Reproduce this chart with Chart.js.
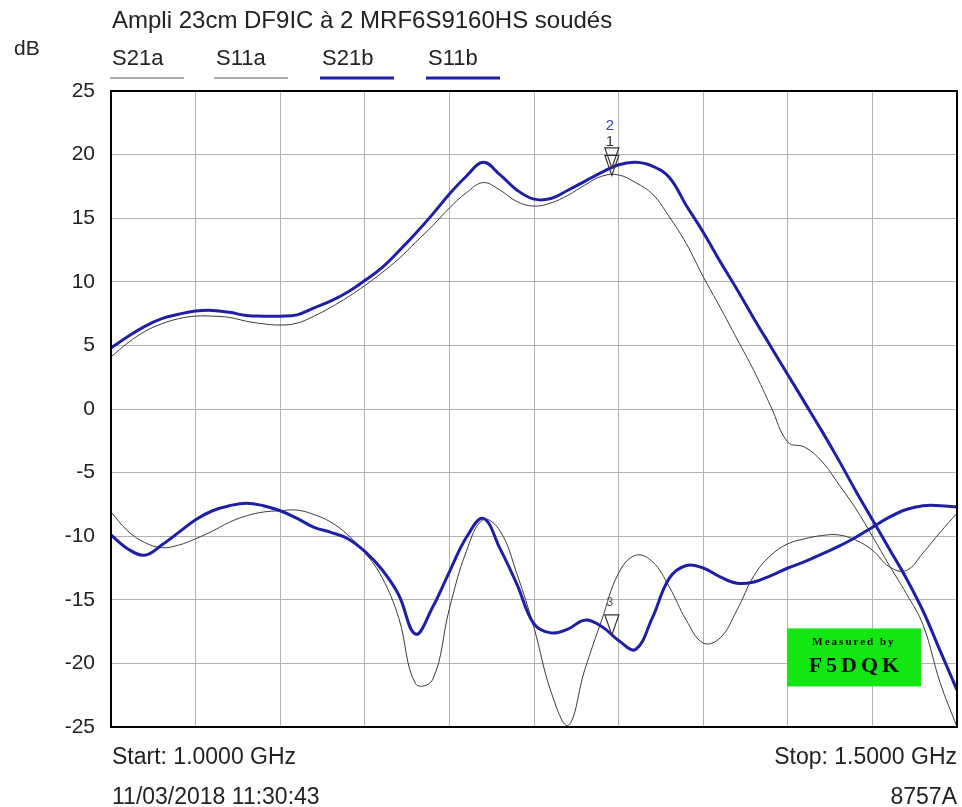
<!DOCTYPE html>
<html>
<head>
<meta charset="utf-8">
<script src="https://cdn.jsdelivr.net/npm/chart.js@4.4.1/dist/chart.umd.min.js"></script>
<style>
  html, body { margin: 0; padding: 0; background: #fff; }
  #wrap { position: relative; width: 962px; height: 807px; }
</style>
</head>
<body>
<div id="wrap"><canvas id="c" width="962" height="807"></canvas></div>
<script>
// sweep 1.0 - 1.5 GHz, one point every 10 MHz
const freqs = [1000,1010,1020,1030,1040,1050,1060,1070,1080,1090,
  1100,1110,1120,1130,1140,1150,1160,1170,1180,1190,
  1200,1210,1220,1230,1240,1250,1260,1270,1280,1290,
  1300,1310,1320,1330,1340,1350,1360,1370,1380,1390,
  1400,1410,1420,1430,1440,1450,1460,1470,1480,1490,1500];

const s21a = [4.1,5.2,6.1,6.7,7.1,7.3,7.3,7.2,6.9,6.7,
  6.6,6.75,7.3,8.0,8.8,9.7,10.7,11.8,13.1,14.4,
  15.8,17.0,17.8,17.2,16.3,15.95,16.2,16.8,17.6,18.3,
  18.4,17.8,16.9,15.1,13.0,10.4,8.0,5.5,3.0,0.2,
  -2.6,-3.0,-4.1,-5.9,-7.8,-10.0,-12.3,-14.5,-17.0,-21.5,-25.0];

const s11a = [-8.1,-9.6,-10.5,-10.9,-10.7,-10.2,-9.6,-8.9,-8.4,-8.1,
  -8.0,-7.95,-8.3,-8.9,-9.9,-11.3,-13.2,-16.4,-21.6,-21.3,
  -15.7,-11.2,-8.7,-9.6,-13.0,-17.2,-22.2,-24.9,-20.5,-16.6,
  -12.9,-11.5,-12.0,-14.0,-16.6,-18.4,-18.0,-15.8,-13.1,-11.5,
  -10.6,-10.2,-9.95,-9.9,-10.3,-11.1,-12.4,-12.7,-11.3,-9.7,-8.2];

const s21b = [4.8,5.7,6.5,7.1,7.45,7.7,7.75,7.6,7.35,7.3,
  7.3,7.4,7.95,8.5,9.2,10.1,11.1,12.4,13.8,15.3,
  16.9,18.3,19.4,18.4,17.2,16.5,16.55,17.2,17.9,18.6,
  19.2,19.4,19.1,18.2,16.0,13.9,11.6,9.4,7.1,4.9,
  2.7,0.5,-1.7,-4.0,-6.4,-8.7,-11.0,-13.3,-15.9,-19.0,-22.1];

const s11b = [-9.9,-11.0,-11.5,-10.7,-9.7,-8.7,-8.0,-7.6,-7.4,-7.6,
  -8.0,-8.6,-9.3,-9.7,-10.2,-11.2,-12.6,-14.6,-17.7,-15.6,
  -12.8,-10.1,-8.6,-11.0,-13.8,-16.9,-17.6,-17.3,-16.6,-17.1,
  -18.2,-18.9,-16.4,-13.3,-12.3,-12.5,-13.2,-13.7,-13.6,-13.1,
  -12.5,-12.0,-11.4,-10.8,-10.1,-9.3,-8.5,-7.9,-7.6,-7.6,-7.7];

const yTicks = [-25, -20, -15, -10, -5, 0, 5, 10, 15, 20, 25];
const seriesNames = ['S21a', 'S11a', 'S21b', 'S11b'];
const markerFreq = 1296;

const BLUE = '#1f1fa6';
const THIN = '#3a3a3a';
const FONT = '"Liberation Sans", Arial, sans-serif';

function pts(vals) {
  return vals.map((v, i) => ({ x: freqs[i], y: v }));
}

function valueAt(vals, f) {
  for (let i = 0; i < freqs.length - 1; i++) {
    if (f >= freqs[i] && f <= freqs[i + 1]) {
      const t = (f - freqs[i]) / (freqs[i + 1] - freqs[i]);
      return vals[i] + t * (vals[i + 1] - vals[i]);
    }
  }
  return vals[vals.length - 1];
}

// markers: label, trace, colour of label
const markers = [
  { label: '1', vals: s21a, color: '#333', dy: -6 },
  { label: '2', vals: s21b, color: '#3344aa', dy: -14 },
  { label: '3', vals: s11b, color: '#555', dy: -6, small: true }
];

const framePlugin = {
  id: 'frame',
  afterDatasetsDraw(chart) {
    const { ctx, chartArea: a, scales } = chart;
    ctx.save();
    // markers
    markers.forEach(m => {
      const px = scales.x.getPixelForValue(markerFreq);
      const py = scales.y.getPixelForValue(valueAt(m.vals, markerFreq));
      ctx.strokeStyle = '#333';
      ctx.lineWidth = 1.2;
      ctx.beginPath();
      ctx.moveTo(px, py);
      ctx.lineTo(px - 7, py - 20);
      ctx.lineTo(px + 7, py - 20);
      ctx.closePath();
      ctx.stroke();
      ctx.fillStyle = m.color;
      ctx.font = (m.small ? '12px ' : '15px ') + FONT;
      ctx.textAlign = 'center';
      ctx.textBaseline = 'bottom';
      ctx.fillText(m.label, px - 2, py - 20 + m.dy);
    });
    // plot box
    ctx.strokeStyle = '#000';
    ctx.lineWidth = 2;
    ctx.strokeRect(a.left, a.top, a.right - a.left, a.bottom - a.top);
    ctx.restore();
  },
  afterDraw(chart) {
    const { ctx, chartArea: a } = chart;
    ctx.save();
    ctx.fillStyle = '#222';
    ctx.textBaseline = 'alphabetic';
    ctx.textAlign = 'left';
    ctx.font = '24px ' + FONT;
    ctx.fillText('Ampli 23cm DF9IC à 2 MRF6S9160HS soudés', 112, 28);
    ctx.font = '21px ' + FONT;
    ctx.fillText('dB', 14, 55);

    // legend
    const lx = [112, 216, 322, 428];
    seriesNames.forEach((n, i) => {
      ctx.fillStyle = '#222';
      ctx.font = '22px ' + FONT;
      ctx.fillText(n, lx[i], 65);
      const blue = n.endsWith('b');
      ctx.strokeStyle = blue ? BLUE : '#555';
      ctx.lineWidth = blue ? 3 : 1;
      ctx.beginPath();
      ctx.moveTo(lx[i] - 2, 78);
      ctx.lineTo(lx[i] + 72, 78);
      ctx.stroke();
    });

    // footer
    ctx.fillStyle = '#222';
    ctx.font = '23px ' + FONT;
    ctx.fillText('Start: 1.0000 GHz', 112, 764);
    ctx.fillText('11/03/2018 11:30:43', 112, 804);
    ctx.textAlign = 'right';
    ctx.fillText('Stop: 1.5000 GHz', 957, 764);
    ctx.fillText('8757A', 957, 804);

    // stamp
    const bx = a.left + (a.right - a.left) * 0.799, by = a.top + (a.bottom - a.top) * 0.845;
    ctx.fillStyle = '#14e614';
    ctx.fillRect(bx, by, 134, 58);
    ctx.fillStyle = '#111';
    ctx.textAlign = 'center';
    ctx.font = 'bold 11px "Liberation Serif", "Times New Roman", serif';
    if ('letterSpacing' in ctx) ctx.letterSpacing = '2px';
    ctx.fillText('Measured by', bx + 67, by + 17);
    ctx.font = 'bold 22px "Liberation Serif", "Times New Roman", serif';
    if ('letterSpacing' in ctx) ctx.letterSpacing = '4px';
    ctx.fillText('F5DQK', bx + 69, by + 44);
    ctx.restore();
  }
};

const ctx = document.getElementById('c').getContext('2d');
new Chart(ctx, {
  type: 'line',
  data: {
    datasets: [
      { label: 'S21a', data: pts(s21a), borderColor: THIN, borderWidth: 1, order: 2 },
      { label: 'S11a', data: pts(s11a), borderColor: THIN, borderWidth: 1, order: 2 },
      { label: 'S21b', data: pts(s21b), borderColor: BLUE, borderWidth: 3, order: 1 },
      { label: 'S11b', data: pts(s11b), borderColor: BLUE, borderWidth: 3, order: 1 }
    ]
  },
  options: {
    responsive: false,
    animation: false,
    events: [],
    layout: { padding: { top: 91, right: 5, bottom: 80, left: 0 } },
    elements: {
      point: { radius: 0 },
      line: { tension: 0.4, fill: false }
    },
    plugins: {
      legend: { display: false },
      title: { display: false },
      tooltip: { enabled: false }
    },
    scales: {
      x: {
        type: 'linear',
        min: 1000,
        max: 1500,
        ticks: { display: false, stepSize: 50 },
        grid: { color: '#b2b2b2', lineWidth: 1, drawTicks: false },
        border: { color: '#000', width: 2 },
        afterFit(s) { s.height = 0; }
      },
      y: {
        min: -25,
        max: 25,
        afterBuildTicks(s) { s.ticks = yTicks.map(v => ({ value: v })); },
        ticks: {
          color: '#222',
          padding: 16,
          font: { size: 21, family: FONT }
        },
        grid: { color: '#b2b2b2', lineWidth: 1, drawTicks: false },
        border: { color: '#000', width: 2 },
        afterFit(s) { s.width = 111; }
      }
    }
  },
  plugins: [framePlugin]
});
</script>
</body>
</html>
